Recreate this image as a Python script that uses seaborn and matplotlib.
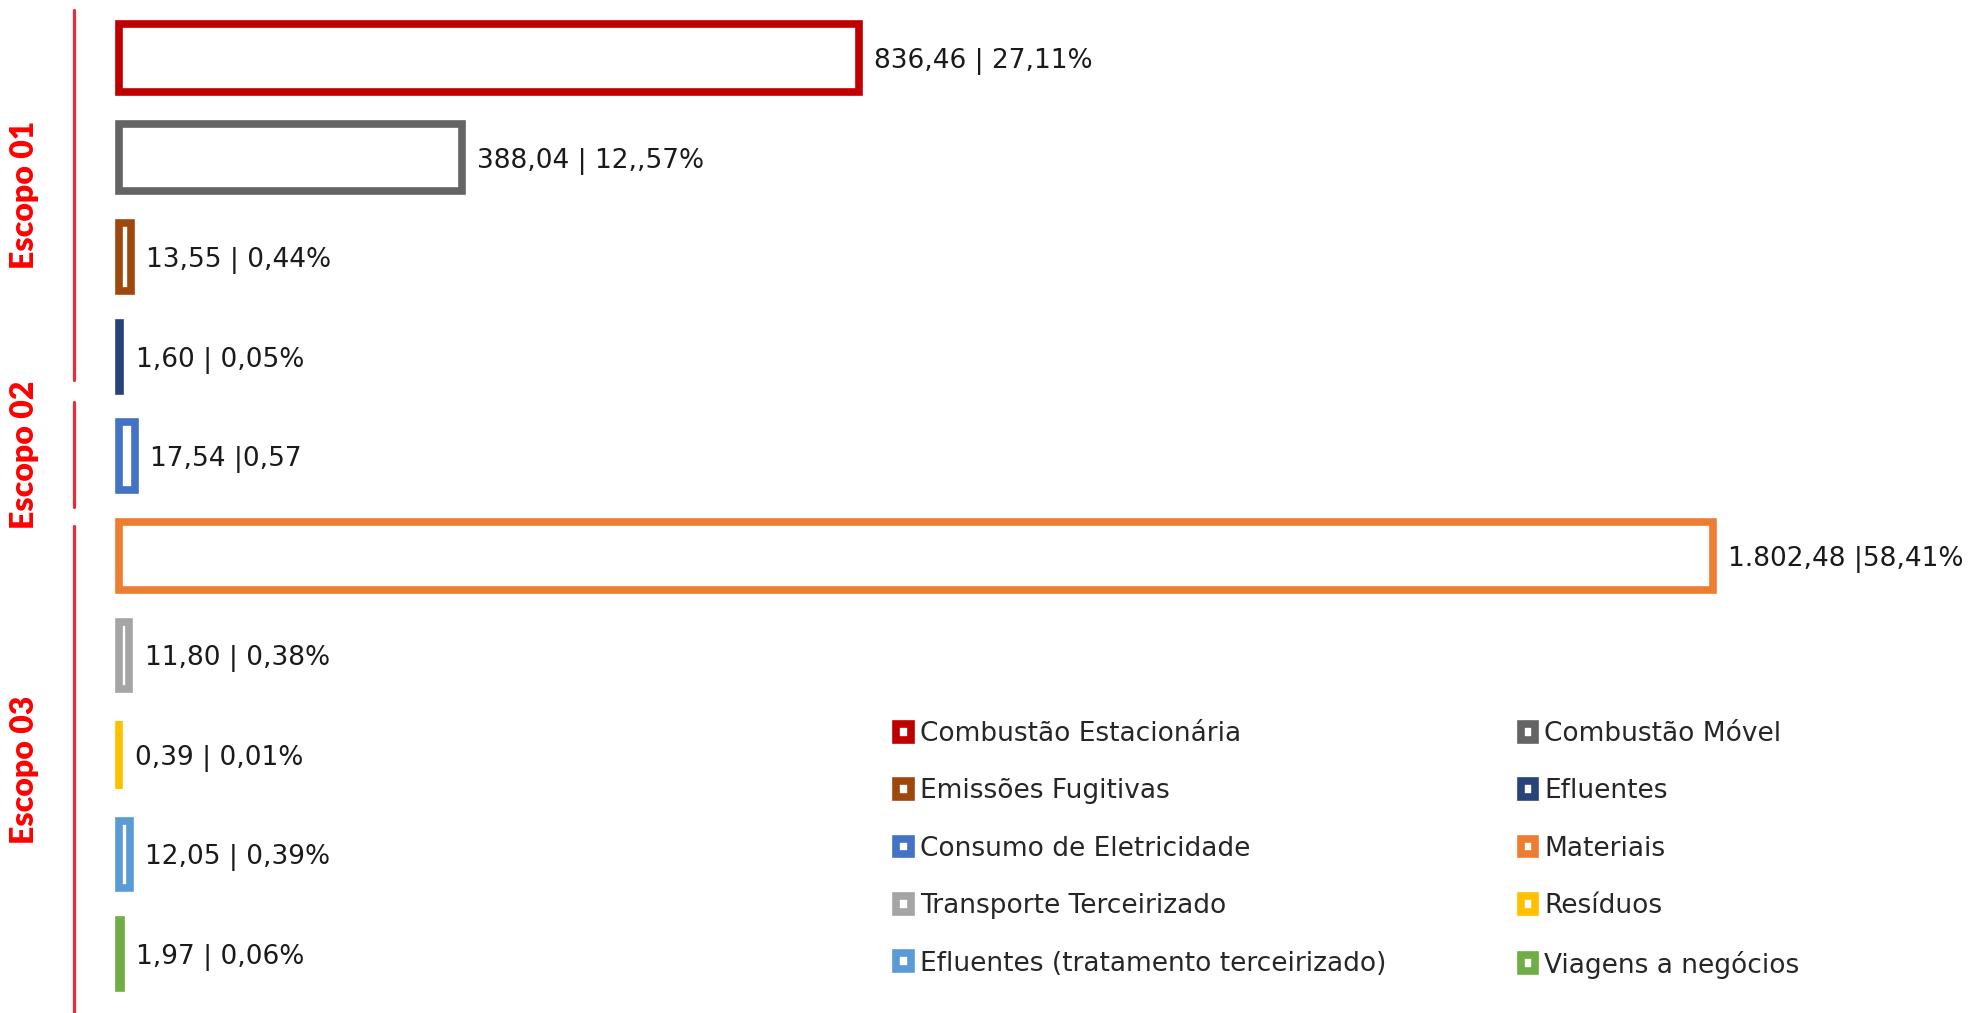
import seaborn as sns
import pandas as pd
import matplotlib.pyplot as plt
from matplotlib.patches import Patch

# dados do gráfico (tCO2e e participação)
categorias = ["Combustão Estacionária", "Combustão Móvel", "Emissões Fugitivas", "Efluentes",
              "Consumo de Eletricidade", "Materiais", "Transporte Terceirizado", "Resíduos",
              "Efluentes (tratamento terceirizado)", "Viagens a negócios"]
emissoes = [836.46, 388.04, 13.55, 1.60, 17.54, 1802.48, 11.80, 0.39, 12.05, 1.97]
rotulos = ["836,46 | 27,11%", "388,04 | 12,,57%", "13,55 | 0,44%", "1,60 | 0,05%", "17,54 |0,57",
           "1.802,48 |58,41%", "11,80 | 0,38%", "0,39 | 0,01%", "12,05 | 0,39%", "1,97 | 0,06%"]
cores = ["#C00000", "#646464", "#9E480E", "#264478", "#4472C4",
         "#ED7D31", "#A5A5A5", "#FFC000", "#5B9BD5", "#70AD47"]
escopos = ["Escopo 01", "Escopo 02", "Escopo 03"]
# faixa vertical (em posições de categoria) de cada linha de escopo
escopo_faixas = [(-0.48, 3.23), (3.46, 4.51), (4.70, 9.6)]

df = pd.DataFrame({"categoria": categorias, "emissao": emissoes})

sns.set_style("white")
plt.rcParams['font.family'] = ['DejaVu Sans']

fig = plt.figure(figsize=(19.74, 10.13), dpi=100)
ax = fig.add_axes([0, 0, 1, 1])

sns.barplot(data=df, x="emissao", y="categoria", hue="categoria", palette=cores,
            fill=False, linewidth=5.5, width=0.68, legend=False, ax=ax)

for cont, rot in zip(ax.containers, rotulos):
    txts = ax.bar_label(cont, labels=[rot], padding=11, fontsize=19, color="#1a1a1a")
    for t in txts:
        t.set_va("center_baseline")

ax.set_xlim(-134.6, 2098)
ax.set_ylim(9.592, -0.582)
ax.axis("off")

# linhas e nomes dos escopos
trans = ax.get_yaxis_transform()
for nome, (y0, y1) in zip(escopos, escopo_faixas):
    ax.plot([0.0375, 0.0375], [y0, y1], color="#EE2A3A", lw=2.3, transform=trans, clip_on=False)
    ax.text(0.0125, (y0 + y1) / 2, nome, rotation=90, color="#FF0000", fontsize=23,
            fontweight="heavy", family=["Lato", "DejaVu Sans"], ha="center", va="center",
            transform=trans)

# legenda em duas colunas, ordem por linha
handles = [Patch(facecolor="white", edgecolor=c, linewidth=5.5, label=n) for n, c in zip(categorias, cores)]
ordem = [0, 2, 4, 6, 8, 1, 3, 5, 7, 9]
ax.legend([handles[i] for i in ordem], [categorias[i] for i in ordem], ncol=2,
          loc="upper left", bbox_to_anchor=(896 / 1974, 1 - 721 / 1013), bbox_transform=fig.transFigure,
          frameon=False, fontsize=19, handlelength=0.55, handleheight=0.55, handletextpad=0.35,
          labelspacing=1.19, columnspacing=5.1, borderpad=0, borderaxespad=0)

plt.savefig("out.png", dpi=100)
